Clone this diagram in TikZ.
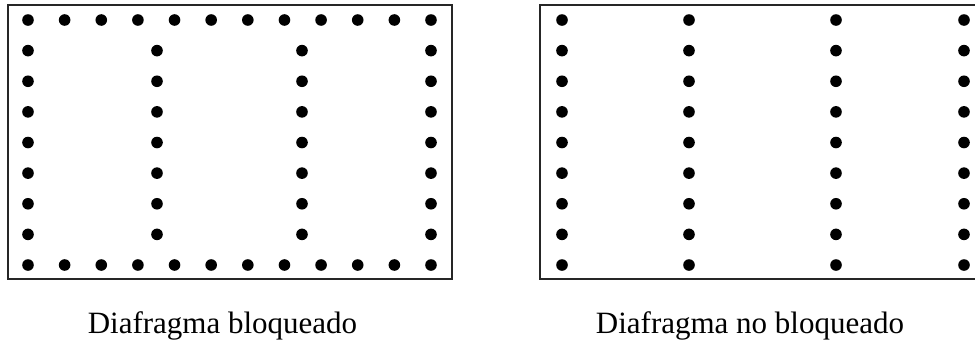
\documentclass[tikz,border=0pt]{standalone}
\usepackage{fontspec}
\setmainfont{Liberation Serif}
\begin{document}
\begin{tikzpicture}[x=1pt,y=-1pt,
  frame/.style={draw=black!85,line width=2pt},
  nail/.style={fill=black},
  caption/.style={font=\fontsize{31}{36}\selectfont,anchor=base,inner sep=0pt}]
\useasboundingbox (0,0) rectangle (975,341);
\clip (0,0) rectangle (975,341);
% rows of the nailing lines
\def\rowys{20,50.625,81.25,111.875,142.5,173.125,203.75,234.375,265}
\def\innerys{50.625,81.25,111.875,142.5,173.125,203.75,234.375}
% blocked diaphragm
\draw[frame] (8,5) rectangle (452,279);
\foreach \i in {0,...,11}{
  \fill[nail] ({28+\i*36.636},20) circle (5.8);
  \fill[nail] ({28+\i*36.636},265) circle (5.8);
}
\foreach \xx in {28,157,302,431}
  \foreach \yy in \innerys
    \fill[nail] (\xx,\yy) circle (5.8);
% unblocked diaphragm
\draw[frame] (540,5) rectangle (987,279);
\foreach \xx in {562,689,836,964}
  \foreach \yy in \rowys
    \fill[nail] (\xx,\yy) circle (5.8);
% captions
\node[caption] (capA) at (222.5,333) {Diafragma bloqueado};
\node[caption] (capB) at (750,333) {Diafragma no bloqueado};
\end{tikzpicture}
\end{document}
